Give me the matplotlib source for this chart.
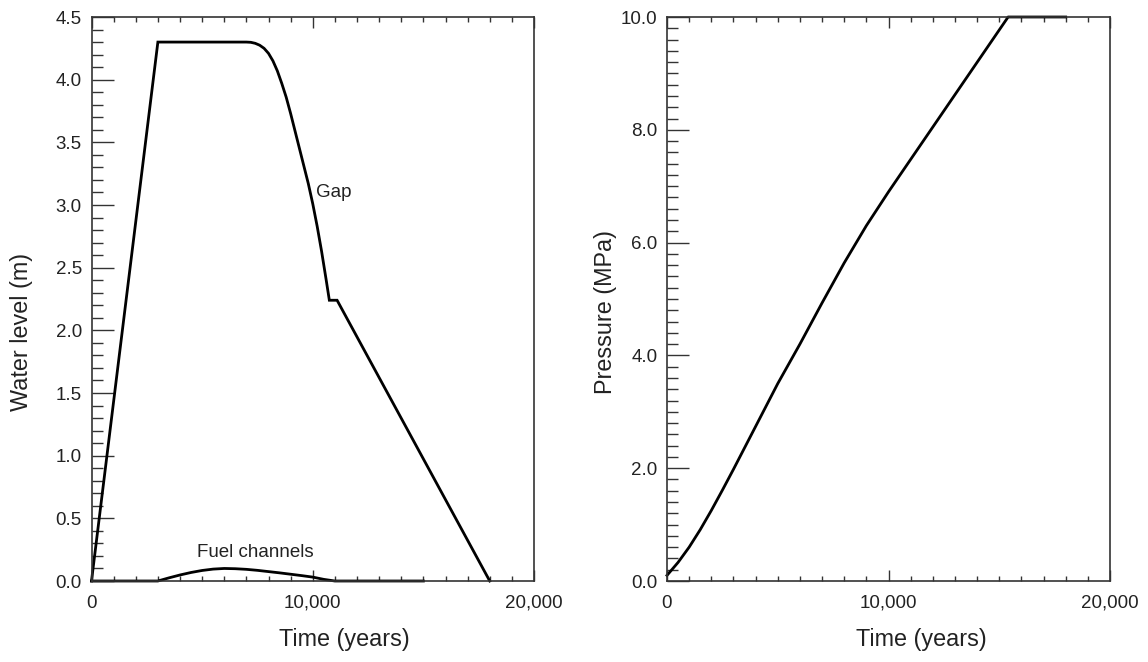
import matplotlib
matplotlib.use("Agg")
import matplotlib.pyplot as plt
from matplotlib.ticker import MultipleLocator, FuncFormatter

plt.rcParams['font.family'] = ['Liberation Sans', 'DejaVu Sans']

# ---- data ----
gap_t = [0, 3000, 7000, 7200, 7400, 7600, 7800, 8000, 8200, 8400, 8600, 8800, 9000, 9200,
         9400, 9600, 9800, 10000, 10200, 10400, 10600, 10750, 11100, 18000]
gap_v = [0, 4.30, 4.30, 4.298, 4.29, 4.275, 4.25, 4.21, 4.15, 4.07, 3.97, 3.86, 3.73, 3.59,
         3.45, 3.31, 3.17, 3.01, 2.83, 2.63, 2.41, 2.24, 2.24, 0]

fuel_t = [0, 3000, 3500, 4000, 4500, 5000, 5500, 6000, 6500, 7000, 7500, 8000, 8500, 9000,
          9500, 10000, 10500, 11000, 15000]
fuel_v = [0, 0, 0.025, 0.048, 0.068, 0.084, 0.095, 0.100, 0.098, 0.093, 0.085, 0.075, 0.065,
          0.054, 0.043, 0.031, 0.013, 0, 0]

pres_t = [0, 500, 1000, 1500, 2000, 2500, 3000, 3500, 4000, 5000, 6000, 7000, 8000, 9000,
          10000, 10800, 15400, 18000]
pres_v = [0.1, 0.33, 0.60, 0.91, 1.25, 1.61, 1.98, 2.36, 2.74, 3.50, 4.20, 4.93, 5.64, 6.30,
          6.90, 7.36, 10.0, 10.0]

W, H = 1148, 662
fig = plt.figure(figsize=(W / 100, H / 100), dpi=100)
ax1 = fig.add_axes([91.5 / W, 81 / H, 442.5 / W, 564 / H])
ax2 = fig.add_axes([667 / W, 81 / H, 443 / W, 564 / H])

tick_fs = 13.5
label_fs = 16.8
annot_fs = 13.5
txt_col = '#222222'

def style(ax, ymax, ymajor, yminor, yfmt, xlab_x):
    ax.set_xlim(0, 20000)
    ax.set_ylim(0, ymax)
    ax.xaxis.set_major_locator(MultipleLocator(10000))
    ax.xaxis.set_minor_locator(MultipleLocator(1000))
    ax.yaxis.set_major_locator(MultipleLocator(ymajor))
    ax.yaxis.set_minor_locator(MultipleLocator(yminor))
    ax.xaxis.set_major_formatter(FuncFormatter(lambda v, p: f"{int(v):,}"))
    ax.yaxis.set_major_formatter(FuncFormatter(lambda v, p: yfmt.format(v)))
    ax.tick_params(axis='x', which='both', direction='in', top=True, bottom=True,
                   color='#333333', width=1.0, labelsize=tick_fs, labelcolor=txt_col, pad=10)
    ax.tick_params(axis='x', which='major', length=8)
    ax.tick_params(axis='x', which='minor', length=3.6)
    ax.tick_params(axis='y', which='both', direction='in', left=True, right=False,
                   color='#333333', width=1.0, labelsize=tick_fs, labelcolor=txt_col)
    ax.tick_params(axis='y', which='major', length=16, pad=7)
    ax.tick_params(axis='y', which='minor', length=8)
    for s in ax.spines.values():
        s.set_color('#333333')
        s.set_linewidth(1.2)
    ax.set_xlabel('Time (years)', fontsize=label_fs, color=txt_col)
    ax.xaxis.set_label_coords(xlab_x, -0.083)

style(ax1, 4.5, 0.5, 0.1, "{:.1f}", 0.571)
style(ax2, 10.0, 2.0, 0.2, "{:.1f}", 0.575)

ax1.plot(gap_t, gap_v, color='black', lw=2.0, clip_on=False, solid_joinstyle='miter')
ax1.plot(fuel_t, fuel_v, color='black', lw=2.0, clip_on=False)
ax1.text(10150, 3.10, 'Gap', fontsize=annot_fs, color=txt_col, ha='left', va='center')
ax1.text(7400, 0.225, 'Fuel channels', fontsize=annot_fs, color=txt_col, ha='center', va='center')
ax1.set_ylabel('Water level (m)', fontsize=label_fs, color=txt_col)
ax1.yaxis.set_label_coords(-0.132, 0.441)

ax2.plot(pres_t, pres_v, color='black', lw=2.0, clip_on=False)
ax2.set_ylabel('Pressure (MPa)', fontsize=label_fs, color=txt_col)
ax2.yaxis.set_label_coords(-0.113, 0.477)

fig.savefig('out.png', dpi=100)
